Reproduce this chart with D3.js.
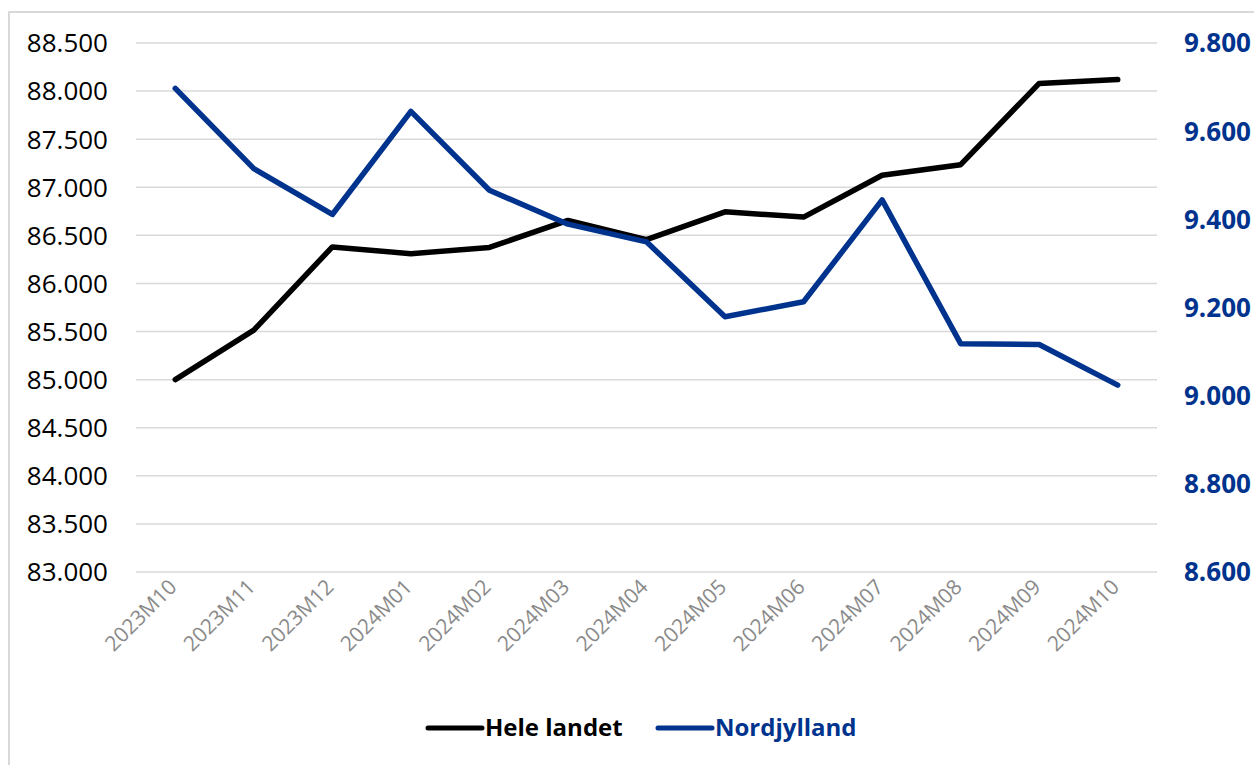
<!DOCTYPE html>
<html>
<head>
<meta charset="utf-8">
<script src="https://cdn.jsdelivr.net/npm/d3@7"></script>
<style>
    body { margin: 0; background: #fff; }
    svg { display: block; font-family: "Open Sans", sans-serif; }
    .grid line { stroke: #d9d9d9; stroke-width: 1.5; }
    .series { fill: none; stroke-width: 5.5; stroke-linejoin: round; stroke-linecap: round; }
</style>
</head>
<body>
<div id="chart"></div>
<script>
const months = ["2023M10", "2023M11", "2023M12", "2024M01", "2024M02", "2024M03", "2024M04",
    "2024M05", "2024M06", "2024M07", "2024M08", "2024M09", "2024M10"];
const heleLandet = [85000, 85515, 86380, 86310, 86375, 86655, 86455, 86745, 86690, 87125, 87235, 88080, 88120];
const nordjylland = [9697, 9515, 9411, 9645, 9466, 9389, 9349, 9179, 9213, 9444, 9118, 9116, 9024];
const leftTicks = d3.range(83000, 88501, 500);
const rightTicks = d3.range(8600, 9801, 200);

const COLORS = { hele: "#000000", nord: "#00338d" };
const fmt = (v) => d3.format(",.3f")(v / 1000).replace(/,/g, "");

const width = 1254;
const height = 765;
const margin = { top: 43, right: 97, bottom: 193, left: 136 };

const svg = d3.select("#chart").append("svg")
    .attr("width", width)
    .attr("height", height);

// chart frame (only top/left edges visible in the crop)
svg.append("rect")
    .attr("x", 9).attr("y", 12)
    .attr("width", width + 20).attr("height", height + 20)
    .attr("fill", "none")
    .attr("stroke", "#d9d9d9")
    .attr("stroke-width", 2);

const x = d3.scalePoint()
    .domain(months)
    .range([margin.left, width - margin.right])
    .padding(0.5);

const yLeft = d3.scaleLinear()
    .domain([83000, 88500])
    .range([height - margin.bottom, margin.top]);

const yRight = d3.scaleLinear()
    .domain([8600, 9800])
    .range([height - margin.bottom, margin.top]);

svg.append("g")
    .attr("class", "grid")
    .selectAll("line")
    .data(leftTicks)
    .enter()
    .append("line")
    .attr("x1", margin.left)
    .attr("x2", width - margin.right)
    .attr("y1", (d) => yLeft(d))
    .attr("y2", (d) => yLeft(d));

const leftAxis = svg.append("g")
    .attr("transform", `translate(${margin.left - 28},0)`)
    .call(d3.axisLeft(yLeft).tickValues(leftTicks).tickFormat(fmt).tickSize(0).tickPadding(0));
leftAxis.select(".domain").remove();
leftAxis.selectAll("text")
    .attr("font-size", 26)
    .attr("font-weight", 500)
    .attr("font-family", "Open Sans, sans-serif")
    .attr("fill", "#000")
    .attr("dy", "0.34em");

const rightAxis = svg.append("g")
    .attr("transform", `translate(${width - margin.right + 27},0)`)
    .call(d3.axisRight(yRight).tickValues(rightTicks).tickFormat(fmt).tickSize(0).tickPadding(0));
rightAxis.select(".domain").remove();
rightAxis.selectAll("text")
    .attr("font-size", 26)
    .attr("font-weight", "bold")
    .attr("font-family", "Open Sans, sans-serif")
    .attr("fill", COLORS.nord)
    .attr("dy", "0.34em");

const xAxis = svg.append("g")
    .attr("transform", `translate(0,${height - margin.bottom})`)
    .call(d3.axisBottom(x).tickSize(0).tickPadding(0));
xAxis.select(".domain").remove();
xAxis.selectAll("text")
    .attr("font-size", 21)
    .attr("font-family", "Open Sans, sans-serif")
    .attr("fill", "#8a8a8a")
    .attr("text-anchor", "end")
    .attr("y", 0)
    .attr("dy", "0.35em")
    .attr("transform", "translate(-3,11) rotate(-45)");

const lineLeft = d3.line()
    .x((d, i) => x(months[i]))
    .y((d) => yLeft(d));

const lineRight = d3.line()
    .x((d, i) => x(months[i]))
    .y((d) => yRight(d));

svg.append("path")
    .datum(heleLandet)
    .attr("class", "series")
    .attr("stroke", COLORS.hele)
    .attr("d", lineLeft);

svg.append("path")
    .datum(nordjylland)
    .attr("class", "series")
    .attr("stroke", COLORS.nord)
    .attr("d", lineRight);

// legend
const legendItems = [
    { label: "Hele landet", color: COLORS.hele, x: 428 },
    { label: "Nordjylland", color: COLORS.nord, x: 658 },
];
const legend = svg.append("g").attr("transform", "translate(0,728)");
legendItems.forEach((item) => {
    legend.append("line")
        .attr("x1", item.x).attr("x2", item.x + 54)
        .attr("y1", 0).attr("y2", 0)
        .attr("stroke", item.color)
        .attr("stroke-width", 5)
        .attr("stroke-linecap", "round");
    legend.append("text")
        .attr("x", item.x + 57)
        .attr("y", 0)
        .attr("dy", "0.35em")
        .attr("font-size", 24)
        .attr("font-weight", "bold")
        .attr("fill", item.color)
        .text(item.label);
});
</script>
</body>
</html>
